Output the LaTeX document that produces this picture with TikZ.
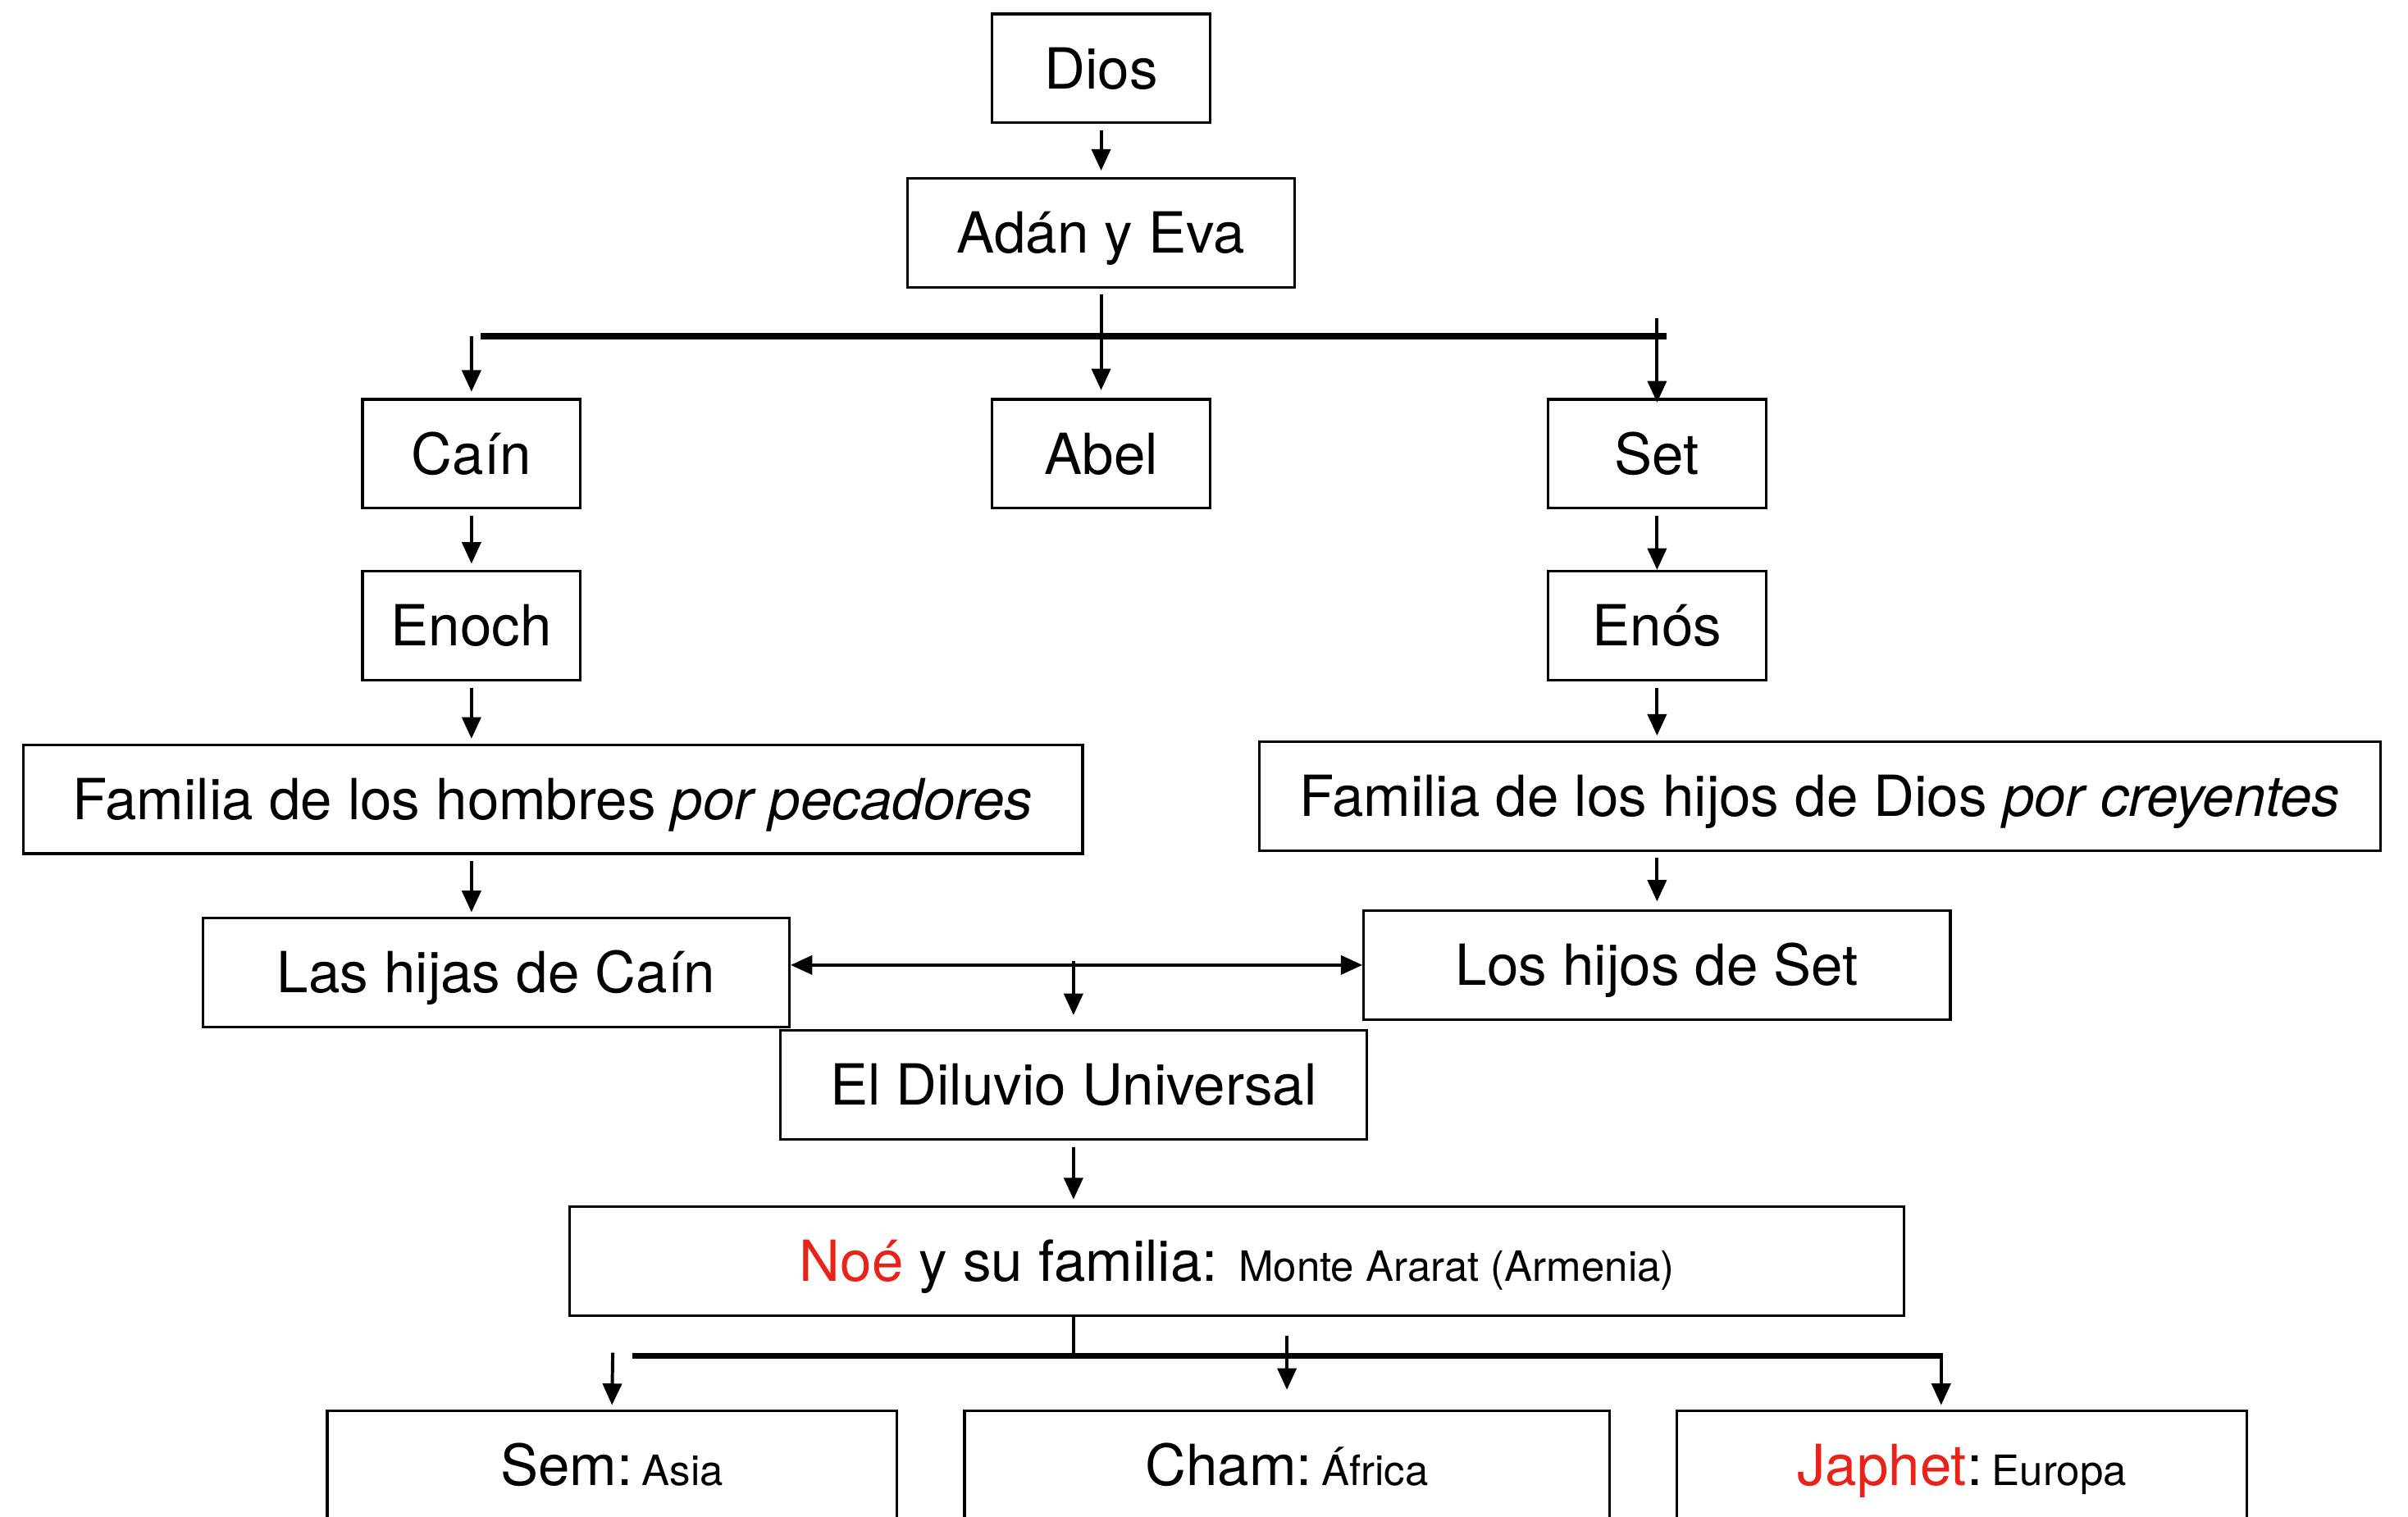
\documentclass[tikz,border=0pt]{standalone}
\usepackage{fontspec}
\setmainfont{TeX Gyre Heros}
\usetikzlibrary{arrows.meta}
\definecolor{noered}{RGB}{232,36,26}
\newcommand{\chico}{\fontsize{15.5}{18}\selectfont}
\newcommand{\rojo}[1]{{\color{noered}#1}}

\tikzset{
  caja/.style={draw, line width=1pt, inner sep=0pt, minimum height=1.42cm,
    text height=15pt, text depth=0pt, font=\fontsize{21}{25}\selectfont},
  flecha/.style={line width=1.2pt, -{Triangle[length=8pt,width=7pt]}},
  dobleflecha/.style={line width=1.2pt, {Triangle[length=8pt,width=7pt]}-{Triangle[length=8pt,width=7pt]}},
  barra/.style={line width=2.2pt},
}

\begin{document}
\begin{tikzpicture}[x=0.02cm, y=-0.02cm]

\useasboundingbox (0,0) rectangle (1568,988);

% Boxes
\node[caja, minimum width=2.84cm] (dios) at (717,44.5) {Dios};
\node[caja, minimum width=5.04cm] (adan) at (717,151.5) {Adán y Eva};
\node[caja, minimum width=2.84cm] (cain) at (307,295.5) {Caín};
\node[caja, minimum width=2.84cm] (abel) at (717,295.5) {Abel};
\node[caja, minimum width=2.84cm] (set) at (1079,295.5) {Set};
\node[caja, minimum width=2.84cm] (enoch) at (307,407.5) {Enoch};
\node[caja, minimum width=2.84cm] (enos) at (1079,407.5) {Enós};
\node[caja, minimum width=13.8cm] (fhom) at (360,520.5) {Familia de los hombres \textit{por pecadores}};
\node[caja, minimum width=14.6cm] (fhij) at (1185,518.5) {Familia de los hijos de Dios \textit{por creyentes}};
\node[caja, minimum width=7.64cm] (hijas) at (323,633.5) {Las hijas de Caín};
\node[caja, minimum width=7.64cm] (hijos) at (1079,628.5) {Los hijos de Set};
\node[caja, minimum width=7.64cm] (diluvio) at (699,706.5) {El Diluvio Universal};
\node[caja, minimum width=17.38cm] (noe) at (805.5,821.5) {\rojo{Noé} y su familia: {\chico Monte Ararat (Armenia)}};
\node[caja, minimum width=7.42cm] (sem) at (398.5,954.5) {Sem:\,{\chico Asia}};
\node[caja, minimum width=8.4cm] (cham) at (838,954.5) {Cham:\,{\chico África}};
\node[caja, minimum width=7.42cm] (japhet) at (1277.5,954.5) {\rojo{Japhet}:\,{\chico Europa}};

% Branch points
\coordinate (barraI) at (313,219);
\coordinate (barraD) at (1085,219);
\coordinate (setA) at (1079,207);
\coordinate (cruce) at (699,626);
\coordinate (barraSI) at (412,883);
\coordinate (barraSD) at (1265,883);
\coordinate (chamA) at (838,870);

% Adán y Eva and children
\draw[flecha] ([yshift=-0.08cm]dios.south) -- ([yshift=0.08cm]adan.north);
\draw[barra] (barraI) -- (barraD);
\draw[flecha] ([yshift=-0.08cm]adan.south) -- ([yshift=0.1cm]abel.north);
\draw[flecha] ([xshift=-0.12cm]barraI) -- ([yshift=0.08cm]cain.north);
\draw[flecha] (setA) -- ([yshift=-0.06cm]set.north);

% Line of Caín
\draw[flecha] ([yshift=-0.08cm]cain.south) -- ([yshift=0.08cm]enoch.north);
\draw[flecha] ([yshift=-0.08cm]enoch.south) -- ([yshift=0.06cm]enoch.south |- fhom.north);
\draw[flecha] ([yshift=-0.08cm]enoch.south |- fhom.south) -- ([yshift=0.06cm]enoch.south |- hijas.north);

% Line of Set
\draw[flecha] ([yshift=-0.08cm]set.south) -- (enos.north);
\draw[flecha] ([yshift=-0.08cm]enos.south) -- ([yshift=0.06cm]enos.south |- fhij.north);
\draw[flecha] ([yshift=-0.08cm]enos.south |- fhij.south) -- ([yshift=0.1cm]hijos.north);

% Mixing and the flood
\draw[dobleflecha] (hijas.east |- hijos.west) -- (hijos.west);
\draw[flecha] (cruce) -- ([yshift=0.18cm]diluvio.north);
\draw[flecha] ([yshift=-0.08cm]diluvio.south) -- ([yshift=0.08cm]diluvio.south |- noe.north);

% Sons of Noé
\draw[line width=1.2pt] (diluvio.south |- noe.south) -- (diluvio.south |- barraSI);
\draw[barra] (barraSI) -- (barraSD);
\draw[flecha] ([xshift=-0.26cm, yshift=0.04cm]barraSI) -- ([yshift=0.06cm]sem.north);
\draw[flecha] (chamA) -- ([yshift=0.26cm]cham.north);
\draw[flecha] ([xshift=-0.02cm]barraSD) -- ([xshift=-0.02cm, yshift=0.06cm]barraSD |- japhet.north);

\end{tikzpicture}
\end{document}
